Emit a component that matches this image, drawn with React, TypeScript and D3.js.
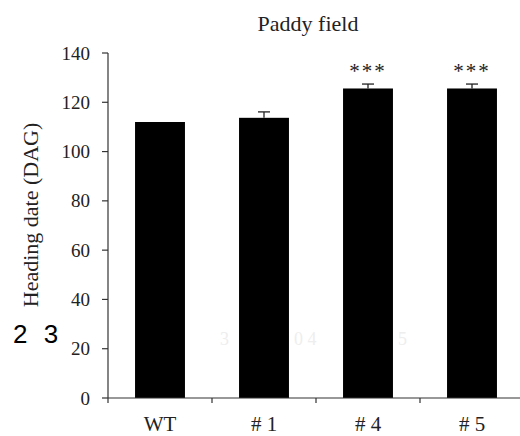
import React from "react";
import * as d3 from "d3";

const categories = ["WT", "# 1", "# 4", "# 5"];
const values = [112, 113.7, 125.6, 125.6];
const errors = [0, 2.4, 1.8, 1.8];
const significance = ["", "", "***", "***"];
const yTicks = [0, 20, 40, 60, 80, 100, 120, 140];

export default function App() {
  const W = 520, H = 436;
  const x0 = 108, y0 = 398;
  const x = d3.scaleBand().domain(categories).range([x0, x0 + 416]).paddingInner(0.52).paddingOuter(0.26);
  const y = d3.scaleLinear().domain([0, 140]).range([y0, 53]);
  const serif = "'Liberation Serif', 'Times New Roman', serif";
  const bw = x.bandwidth();
  const step = x.step();
  const boundaries = [0, 1, 2, 3].map((i) => x0 + i * step);
  return (
    <svg width={W} height={H} style={{ position: "absolute", left: 0, top: 0, background: "#fff" }}>
      <text x={308} y={31} textAnchor="middle" fontFamily={serif} fontSize={22} fill="#222">Paddy field</text>
      <text transform={`translate(38,215) rotate(-90)`} textAnchor="middle" fontFamily={serif} fontSize={22} fill="#222">Heading date (DAG)</text>
      <text x={13} y={343} fontFamily="'Liberation Sans', Arial, sans-serif" fontSize={26} wordSpacing={9} fill="#000">2 3</text>
      <g fontFamily={serif} fontSize={18} fill="#eeeeee">
        <text x={220} y={345}>3</text>
        <text x={294} y={345}>0 4</text>
        <text x={398} y={345}>5</text>
      </g>
      {categories.map((c, i) => {
        const bx = x(c)!;
        const cx = bx + bw / 2;
        return (
          <g key={c}>
            <rect x={bx} y={y(values[i])} width={bw} height={y0 - y(values[i])} fill="#000" />
            {errors[i] > 0 && (
              <g stroke="#222" strokeWidth={1.3}>
                <line x1={cx} x2={cx} y1={y(values[i])} y2={y(values[i] + errors[i])} />
                <line x1={cx - 6} x2={cx + 6} y1={y(values[i] + errors[i])} y2={y(values[i] + errors[i])} />
              </g>
            )}
            {significance[i] && (
              <text x={cx} y={78} textAnchor="middle" fontFamily={serif} fontSize={21} letterSpacing={2} fill="#222">{significance[i]}</text>
            )}
            <text x={cx} y={431} textAnchor="middle" fontFamily={serif} fontSize={21} fill="#222">{c}</text>
          </g>
        );
      })}
      <g stroke="#333" strokeWidth={1.2}>
        <line x1={x0} x2={x0} y1={y(140)} y2={y0} />
        <line x1={x0} x2={W} y1={y0} y2={y0} />
        {yTicks.map((t) => (
          <line key={t} x1={x0 - 6} x2={x0} y1={y(t)} y2={y(t)} />
        ))}
        {boundaries.map((b, i) => (
          <line key={i} x1={b} x2={b} y1={y0} y2={y0 + 5} />
        ))}
      </g>
      <g fontFamily={serif} fontSize={19} fill="#222" textAnchor="end">
        {yTicks.map((t) => (
          <text key={t} x={90} y={y(t) + 6.5}>{t}</text>
        ))}
      </g>
    </svg>
  );
}
